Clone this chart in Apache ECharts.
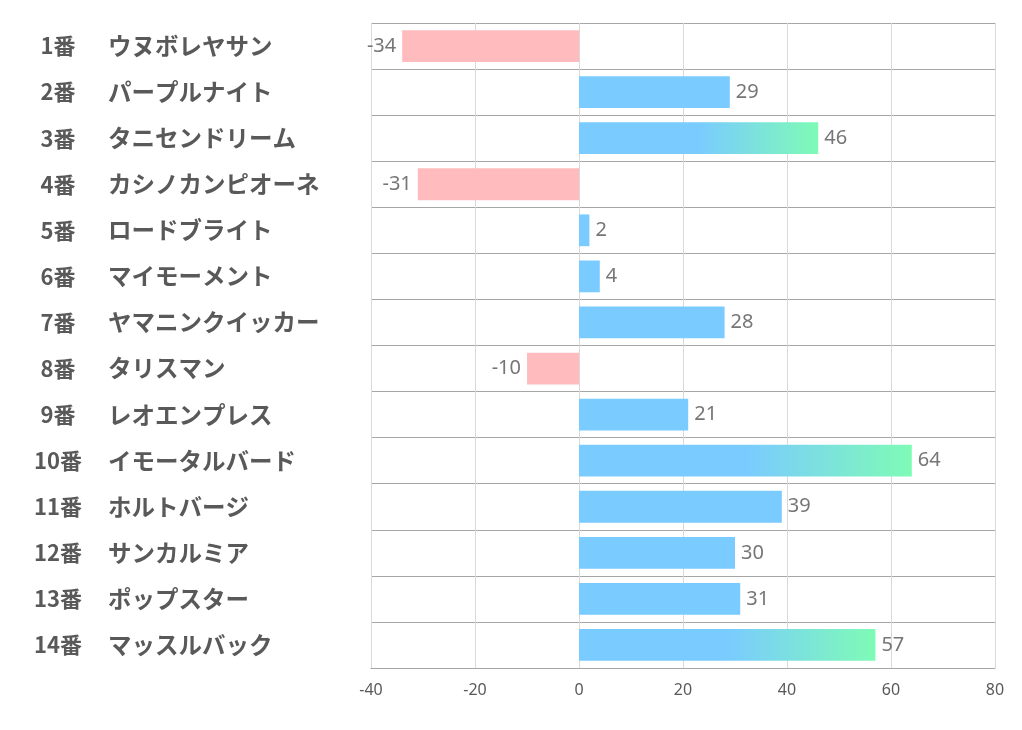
<!DOCTYPE html>
<html><head><meta charset="utf-8">
<script src="https://cdn.jsdelivr.net/npm/echarts@6/dist/echarts.min.js"></script>
<style>html,body{margin:0;padding:0;background:#fff}#c{width:1022px;height:730px}</style>
</head><body><div id="c"></div>
<script>
const numbers = ['1番','2番','3番','4番','5番','6番','7番','8番','9番','10番','11番','12番','13番','14番'];
const names = ['ウヌボレヤサン','パープルナイト','タニセンドリーム','カシノカンピオーネ','ロードブライト','マイモーメント','ヤマニンクイッカー','タリスマン','レオエンプレス','イモータルバード','ホルトバージ','サンカルミア','ポップスター','マッスルバック'];
const values = [-34, 29, 46, -31, 2, 4, 28, -10, 21, 64, 39, 30, 31, 57];
const xTicks = [-40, 80, 20];

const BLUE = '#7acbff', GREEN = '#7efbb6', PINK = '#ffbbbe';
const cats = numbers.map((n, i) => n + '|' + names[i]);
const data = values.map(v => {
  let color;
  if (v < 0) color = PINK;
  else if (v > 40) color = new echarts.graphic.LinearGradient(0, 0, 1, 0, [
    {offset: 0, color: BLUE}, {offset: 0.5, color: BLUE}, {offset: 1, color: GREEN}]);
  else color = BLUE;
  return {value: v, itemStyle: {color}, label: {position: v < 0 ? 'left' : 'right'}};
});

const chart = echarts.init(document.getElementById('c'));
chart.setOption({
  animation: false,
  grid: {left: 371, right: 27, top: 23, bottom: 62},
  xAxis: {
    type: 'value', min: xTicks[0], max: xTicks[1], interval: xTicks[2],
    axisLine: {show: true, lineStyle: {color: '#a6a6a6', width: 1}},
    axisTick: {show: false},
    splitLine: {show: true, lineStyle: {color: '#d9d9d9', width: 1}},
    axisLabel: {color: '#595959', fontSize: 16, margin: 14, fontFamily: 'Noto Sans'}
  },
  yAxis: {
    type: 'category', inverse: true, data: cats,
    axisLine: {show: false}, axisTick: {show: false},
    splitLine: {show: true, lineStyle: {color: '#a6a6a6', width: 1}},
    axisLabel: {
      align: 'left', margin: 341,
      formatter: v => { const p = v.split('|'); return '{a|' + p[0] + '}{b|' + p[1] + '}'; },
      rich: {
        a: {width: 56, align: 'right', fontSize: 22, fontWeight: 'bold', color: '#595959', fontFamily: 'Noto Sans CJK JP'},
        b: {padding: [0, 0, 0, 22], fontSize: 23.5, fontWeight: 'bold', color: '#595959', fontFamily: 'Noto Sans CJK JP'}
      }
    }
  },
  series: [{
    type: 'bar', data: data, barWidth: '69%',
    label: {show: true, fontSize: 20, color: '#767676', distance: 6, padding: [3, 0, 0, 0], fontFamily: 'Noto Sans'}
  }]
});
</script></body></html>
